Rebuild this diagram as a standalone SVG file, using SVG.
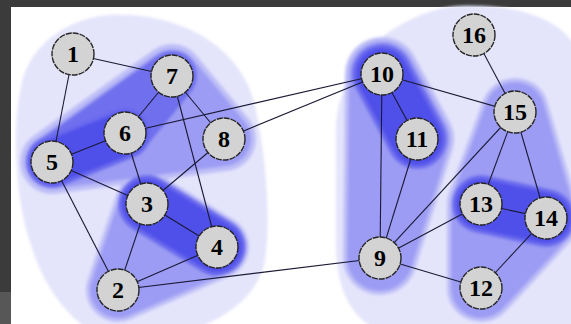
<svg xmlns="http://www.w3.org/2000/svg" xmlns:xlink="http://www.w3.org/1999/xlink" width="571" height="324" viewBox="0 0 571 324">
<style>
.hull{stroke-linejoin:round;stroke-linecap:round}
.outer{fill:#e4e4fb}
.h1halo{fill:#bebef7;stroke:#bebef7}
.h1{fill:#9c9cf4;stroke:#9c9cf4}
.h2{fill:#7070ee;stroke:#7070ee}
.h3halo{fill:#6a6aee;stroke:#6a6aee}
.h3{fill:#5050ea;stroke:#5050ea}
.edge{stroke:#1a1a36;stroke-width:1.1;fill:none}
.node circle{fill:#d3d3d3;stroke:#262626;stroke-width:1.4;stroke-dasharray:6 1}
.node text{font-family:"Liberation Serif","Times New Roman",serif;font-weight:bold;font-size:24px;fill:#000;text-anchor:middle}
</style>
<defs>
<filter id="soft" x="-20%" y="-20%" width="140%" height="140%"><feGaussianBlur stdDeviation="1.6"/></filter>
<path id="pL1a" d="M52,162 L172,76 L224,139 Z"/>
<path id="pL1b" d="M147,204 L217,247 L118,290 Z"/>
<path id="pL2a" d="M52,162 L125,133 L172,76 Z"/>
<path id="pL3a" d="M52,162 L125,133"/>
<path id="pL3b" d="M147,204 L217,247"/>
<path id="pR1a" d="M382,74 L417,139 L380,258 Z"/>
<path id="pR1b" d="M515,112 L546,218 L481,288 L481,204 Z"/>
<path id="pR3a" d="M382,74 L417,139"/>
<path id="pR3b" d="M481,204 L546,218"/>
</defs>
<rect x="0" y="0" width="571" height="324" fill="#ffffff"/>
<rect x="0" y="0" width="571" height="7" fill="#3b3b3b"/>
<rect x="0" y="0" width="11" height="292" fill="#3b3b3b"/>
<rect x="0" y="292" width="11" height="32" fill="#575757"/>
<g id="hulls" filter="url(#soft)">
<path class="outer" d="M110,15 C170,12 232,38 252,95 C266,145 272,225 264,265 C254,302 218,322 185,332 L92,332 C62,312 42,282 30,242 C16,200 11,132 22,82 C32,42 70,18 110,15 Z"/>
<path class="outer" d="M460,6 C520,4 571,20 580,60 L580,332 L382,332 C348,318 336,284 336,244 L336,132 C336,82 366,40 410,20 C426,12 442,7 460,6 Z"/>
<use xlink:href="#pL1a" class="hull h1halo" stroke-width="64"/>
<use xlink:href="#pL1b" class="hull h1halo" stroke-width="64"/>
<use xlink:href="#pR1a" class="hull h1halo" stroke-width="74"/>
<use xlink:href="#pR1b" class="hull h1halo" stroke-width="68"/>
<use xlink:href="#pL1a" class="hull h1" stroke-width="54"/>
<use xlink:href="#pL1b" class="hull h1" stroke-width="56"/>
<use xlink:href="#pR1a" class="hull h1" stroke-width="66"/>
<use xlink:href="#pR1b" class="hull h1" stroke-width="60"/>
<use xlink:href="#pL2a" class="hull h2" stroke-width="50"/>
<use xlink:href="#pL3a" class="hull h3halo" stroke-width="52"/>
<use xlink:href="#pL3b" class="hull h3halo" stroke-width="58"/>
<use xlink:href="#pR3a" class="hull h3halo" stroke-width="60"/>
<use xlink:href="#pR3b" class="hull h3halo" stroke-width="58"/>
<use xlink:href="#pL3a" class="hull h3" stroke-width="44"/>
<use xlink:href="#pL3b" class="hull h3" stroke-width="50"/>
<use xlink:href="#pR3a" class="hull h3" stroke-width="52"/>
<use xlink:href="#pR3b" class="hull h3" stroke-width="50"/>
</g>
<g id="edges" class="edge">
<line x1="73" y1="54" x2="172" y2="76"/>
<line x1="73" y1="54" x2="52" y2="162"/>
<line x1="172" y1="76" x2="125" y2="133"/>
<line x1="172" y1="76" x2="224" y2="139"/>
<line x1="172" y1="76" x2="217" y2="247"/>
<line x1="125" y1="133" x2="52" y2="162"/>
<line x1="125" y1="133" x2="147" y2="204"/>
<line x1="125" y1="133" x2="382" y2="74"/>
<line x1="224" y1="139" x2="382" y2="74"/>
<line x1="224" y1="139" x2="147" y2="204"/>
<line x1="52" y1="162" x2="147" y2="204"/>
<line x1="52" y1="162" x2="118" y2="290"/>
<line x1="147" y1="204" x2="217" y2="247"/>
<line x1="147" y1="204" x2="118" y2="290"/>
<line x1="118" y1="290" x2="217" y2="247"/>
<line x1="118" y1="290" x2="380" y2="258"/>
<line x1="382" y1="74" x2="417" y2="139"/>
<line x1="382" y1="74" x2="380" y2="258"/>
<line x1="382" y1="74" x2="515" y2="112"/>
<line x1="417" y1="139" x2="380" y2="258"/>
<line x1="474" y1="35" x2="515" y2="112"/>
<line x1="515" y1="112" x2="380" y2="258"/>
<line x1="515" y1="112" x2="481" y2="204"/>
<line x1="515" y1="112" x2="546" y2="218"/>
<line x1="481" y1="204" x2="546" y2="218"/>
<line x1="481" y1="204" x2="380" y2="258"/>
<line x1="380" y1="258" x2="481" y2="288"/>
<line x1="481" y1="288" x2="546" y2="218"/>
</g>
<g id="n1" class="node"><circle cx="73" cy="54" r="21"/><text x="73" y="62">1</text></g>
<g id="n2" class="node"><circle cx="118" cy="290" r="21"/><text x="118" y="298">2</text></g>
<g id="n3" class="node"><circle cx="147" cy="204" r="21"/><text x="147" y="212">3</text></g>
<g id="n4" class="node"><circle cx="217" cy="247" r="21"/><text x="217" y="255">4</text></g>
<g id="n5" class="node"><circle cx="52" cy="162" r="21"/><text x="52" y="170">5</text></g>
<g id="n6" class="node"><circle cx="125" cy="133" r="21"/><text x="125" y="141">6</text></g>
<g id="n7" class="node"><circle cx="172" cy="76" r="21"/><text x="172" y="84">7</text></g>
<g id="n8" class="node"><circle cx="224" cy="139" r="21"/><text x="224" y="147">8</text></g>
<g id="n9" class="node"><circle cx="380" cy="258" r="21"/><text x="380" y="266">9</text></g>
<g id="n10" class="node"><circle cx="382" cy="74" r="21"/><text x="382" y="82">10</text></g>
<g id="n11" class="node"><circle cx="417" cy="139" r="21"/><text x="417" y="147">11</text></g>
<g id="n12" class="node"><circle cx="481" cy="288" r="21"/><text x="481" y="296">12</text></g>
<g id="n13" class="node"><circle cx="481" cy="204" r="21"/><text x="481" y="212">13</text></g>
<g id="n14" class="node"><circle cx="546" cy="218" r="21"/><text x="546" y="226">14</text></g>
<g id="n15" class="node"><circle cx="515" cy="112" r="21"/><text x="515" y="120">15</text></g>
<g id="n16" class="node"><circle cx="474" cy="35" r="21"/><text x="474" y="43">16</text></g>
</svg>
